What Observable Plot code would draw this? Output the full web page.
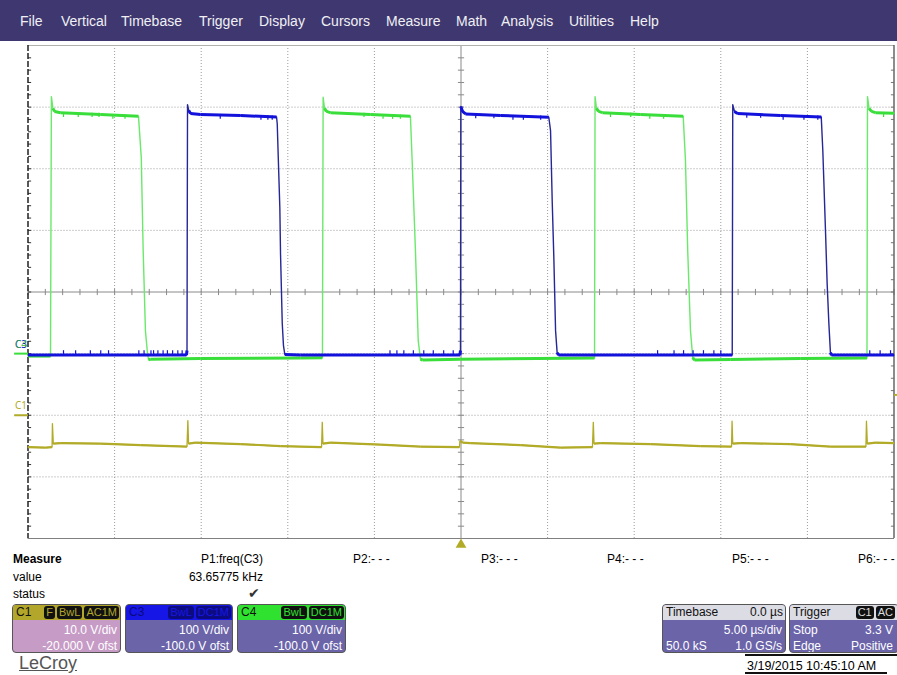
<!DOCTYPE html>
<html><head><meta charset="utf-8">
<script src="https://cdn.jsdelivr.net/npm/d3@7"></script>
<script src="https://cdn.jsdelivr.net/npm/@observablehq/plot@0.6"></script>
<style>
body{margin:0;background:#fff;font-family:"Liberation Sans",Arial,sans-serif;}
#root{position:relative;width:897px;height:675px;overflow:hidden;background:#fff;}
#menu{position:absolute;left:0;top:0;width:897px;height:41px;background:#3f3870;}
#menu span{position:absolute;top:13px;line-height:16px;color:#f0f0f4;font-size:14px;}
#chart{position:absolute;left:0;top:40px;}
.t{position:absolute;font-size:12px;line-height:14px;color:#000;white-space:nowrap;}
.box{position:absolute;box-sizing:border-box;border:1px solid #555;border-radius:4px;overflow:hidden;background:#6b64a9;color:#fff;font-size:12px;}
.hdr{position:absolute;left:0;right:0;top:0;height:15px;line-height:15px;font-size:12px;}
.hl{position:absolute;left:3px;top:0;}
.hr{position:absolute;right:2px;top:0;}
.tags{position:absolute;right:1px;top:1px;line-height:13px;}
.tags i{font-style:normal;display:inline-block;background:#111;border-radius:3px;padding:0 2px;margin-left:2px;font-size:11px;}
.r{position:absolute;right:3px;line-height:14px;white-space:nowrap;}
.l{position:absolute;left:3px;line-height:14px;white-space:nowrap;}
</style>
</head><body>
<div id="root">
  <div id="menu">
    <span style="left:20px">File</span>
    <span style="left:61px">Vertical</span>
    <span style="left:121px">Timebase</span>
    <span style="left:199px">Trigger</span>
    <span style="left:259px">Display</span>
    <span style="left:321px">Cursors</span>
    <span style="left:386px">Measure</span>
    <span style="left:456px">Math</span>
    <span style="left:501px">Analysis</span>
    <span style="left:569px">Utilities</span>
    <span style="left:630px">Help</span>
  </div>
  <div id="chart"></div>

  <div class="t" style="left:13px;top:552px;font-weight:bold">Measure</div>
  <div class="t" style="left:13px;top:570px">value</div>
  <div class="t" style="left:13px;top:587px">status</div>
  <div class="t" style="right:634px;top:552px">P1:freq(C3)</div>
  <div class="t" style="right:634px;top:570px">63.65775 kHz</div>
  <div class="t" style="left:248px;top:585px;font-size:14px;line-height:16px;color:#333;font-family:'DejaVu Sans',sans-serif">✔</div>
  <div class="t" style="left:353px;top:552px">P2:- - -</div>
  <div class="t" style="left:481px;top:552px">P3:- - -</div>
  <div class="t" style="left:607px;top:552px">P4:- - -</div>
  <div class="t" style="left:732px;top:552px">P5:- - -</div>
  <div class="t" style="left:858px;top:552px">P6:- - -</div>

  <div class="box" style="left:12px;top:604px;width:109px;height:49px;background:#c69bc6">
    <div class="hdr" style="background:#b2a72b;color:#111"><span class="hl">C1</span>
      <span class="tags" style="color:#b2a72b"><i>F</i><i>BwL</i><i>AC1M</i></span></div>
    <div class="r" style="top:18px">10.0 V/div</div>
    <div class="r" style="top:34px">-20.000 V ofst</div>
  </div>
  <div class="box" style="left:125px;top:604px;width:108px;height:49px">
    <div class="hdr" style="background:#1616e6;color:#0a0a7a"><span class="hl">C3</span>
      <span class="tags" style="color:#1616e6"><i style="background:#0c0c80">BwL</i><i style="background:#0c0c80">DC1M</i></span></div>
    <div class="r" style="top:18px">100 V/div</div>
    <div class="r" style="top:34px">-100.0 V ofst</div>
  </div>
  <div class="box" style="left:237px;top:604px;width:109px;height:49px">
    <div class="hdr" style="background:#2fe22f;color:#111"><span class="hl">C4</span>
      <span class="tags" style="color:#2fe22f"><i>BwL</i><i>DC1M</i></span></div>
    <div class="r" style="top:18px">100 V/div</div>
    <div class="r" style="top:34px">-100.0 V ofst</div>
  </div>

  <div class="t" style="left:19px;top:652px;font-size:18px;line-height:22px;color:#555;text-decoration:underline">LeCroy</div>

  <div class="box" style="left:662px;top:604px;width:124px;height:49px">
    <div class="hdr" style="background:#dcdce4;color:#111"><span class="hl">Timebase</span><span class="hr">0.0 µs</span></div>
    <div class="r" style="top:18px">5.00 µs/div</div>
    <div class="l" style="top:34px">50.0 kS</div>
    <div class="r" style="top:34px">1.0 GS/s</div>
  </div>
  <div class="box" style="left:789px;top:604px;width:110px;height:49px">
    <div class="hdr" style="background:#dcdce4;color:#111"><span class="hl">Trigger</span>
      <span class="tags" style="right:3px;color:#ddd"><i>C1</i><i>AC</i></span></div>
    <div class="l" style="top:18px">Stop</div>
    <div class="r" style="top:18px;right:5px">3.3 V</div>
    <div class="l" style="top:34px">Edge</div>
    <div class="r" style="top:34px;right:5px">Positive</div>
  </div>
  <div style="position:absolute;left:745px;top:654px;width:152px;height:0;border-top:2px solid #111"></div>
  <div class="t" style="left:747px;top:659px;font-size:12.5px">3/19/2015 10:45:10 AM</div>
  <div style="position:absolute;left:745px;top:672px;width:142px;height:0;border-top:2px solid #111"></div>
</div>

<script>
// ---- Channel settings (from the channel boxes) ----
const chNames = ["C1", "C3", "C4"];
const chVoltsPerDiv = [10, 100, 100];
const chOffsetVolts = [-20, -100, -100];
const triggerLevelC1 = 3.3;            // V
const timePerDiv = 5;                   // µs/div
const gridDivsX = 10, gridDivsY = 8;

// ---- C4 (green) trace: time in µs, voltage in V ----
const c4Time  = [-25.00,-23.70,-23.65,-23.56,-23.47,-23.12,-20.81,-18.62,-18.46,-18.35,-18.22,-18.10,-18.04,-17.93,-15.04,-9.27,-8.00,-7.96,-7.88,-7.77,-7.54,-5.23,-2.92,-2.82,-2.63,-2.47,-2.34,-2.22,-0.03,7.71,7.74,7.82,7.94,8.17,10.36,12.83,12.96,13.09,13.25,13.38,13.48,15.56,19.60,23.44,23.47,23.56,23.70,23.93,25.00];
const c4Volts = [-4,-4,417,398,393,391,388,385,318,167,37,0,-10,-9,-8,-7,-6.5,416,398,393,391,388,385,313,167,21,-9,-10.5,-9,-7,417,398,393,391,388,385,313,167,37,-6.5,-10.5,-9.5,-8,-7,417,398,393,391,390];

// ---- C3 (blue) trace ----
const c3Time  = [-25.00,-15.85,-15.82,-15.79,-15.72,-15.62,-15.04,-12.73,-10.65,-10.61,-10.55,-10.46,-10.42,-10.32,-10.25,-10.17,-9.27,-0.06,-0.03,-0.01,0.09,0.26,2.28,5.07,5.17,5.27,5.36,5.46,5.55,5.63,15.66,15.69,15.79,15.96,18.45,20.80,20.89,21.05,21.14,21.24,21.33,21.39,25.00];
const c3Volts = [-2.4,-2.4,5,404,394.5,389.6,388,386.4,384,373,318,237,162,49,13,-1.6,-2.4,-2.4,5,401,393,389,386.4,383.6,362,243.5,155.8,37.3,1.6,-2.4,-2.4,404,393,389.6,386.4,384,329.5,194.8,113.6,48.7,1.6,-2.4,-2.4];

// ---- C1 (yellow) trace ----
const c1Time  = [-25.00,-23.99,-23.61,-23.59,-23.54,-23.12,-20.81,-18.50,-15.82,-15.77,-15.73,-15.33,-12.73,-10.42,-8.05,-8.01,-7.97,-7.53,-4.65,-2.34,-0.09,-0.06,0.09,0.55,3.44,5.74,7.59,7.64,7.68,8.06,10.94,13.83,15.62,15.65,15.69,16.14,19.02,21.33,23.38,23.41,23.46,23.93,25.00];
const c1Volts = [-5.16,-5.24,-5.16,-1.36,-4.59,-4.51,-4.59,-4.84,-5.08,-0.86,-4.59,-4.43,-4.68,-5.00,-5.16,-1.14,-4.59,-4.43,-4.76,-5.08,-5.16,-4.19,-4.43,-4.51,-4.84,-5.24,-5.16,-1.14,-4.59,-4.51,-4.68,-5.00,-5.08,-0.97,-4.59,-4.51,-4.68,-5.08,-5.08,-0.97,-4.59,-4.43,-4.51];

// ---- noise glitches seen on the traces (times in µs) ----
const c4HighGlitchTime = [-22.95,-22.1,-21.3,-20.9,-20.1,-19.4,-5.6,-4.5,-3.95,-3.5,8.63,9.8,10.9,11.7,24.4];
const c3HighGlitchTime = [-13.9,-11.55,-11.15,-10.9,0.85,1.9,3.0,3.6,4.6,16.5,17.3,18.6,19.8,20.6];
const c3LowGlitchTime  = [-22.95,-22.25,-21.4,-20.8,-20.35,-18.6,-18.3,-17.9,-17.75,-17.5,-17.2,-16.95,-16.65,-16.35,-16.1,-4.1,-3.7,-3.3,-2.75,-2.15,-1.6,-1.0,-0.45,11.35,12.3,12.85,13.4,14.0,14.6,15.0,23.6,24.2,24.8];

// ---- helpers ----
const ch = name => { const i = chNames.indexOf(name); return {vdiv: chVoltsPerDiv[i], ofst: chOffsetVolts[i]}; };
const toDiv = (v, name) => { const c = ch(name); return (v + c.ofst) / c.vdiv; };
const trace = (ts, vs, name) => ts.map((t, i) => ({t, y: toDiv(vs[i], name)}));
const c4 = trace(c4Time, c4Volts, "C4");
const c3 = trace(c3Time, c3Volts, "C3");
const c1 = trace(c1Time, c1Volts, "C1");
const flats = (pts, thr) => pts.slice(1).map((p, i) => ({a: pts[i], b: p}))
  .filter(s => Math.abs(s.b.y - s.a.y) < thr);
const levelAt = (pts, t) => { const i = Math.max(1, d3.bisector(d => d.t).left(pts, t)); return pts[i - 1].y; };
const glitches = (pts, times, depth) => times.map(t => ({t, y1: levelAt(pts, t), y2: levelAt(pts, t) + depth}));

const halfX = gridDivsX / 2 * timePerDiv, halfY = gridDivsY / 2;
const gridT = d3.range(-halfX + timePerDiv, halfX, timePerDiv).filter(t => t !== 0);
const gridY = d3.range(-halfY + 1, halfY).filter(v => v !== 0);
const minorT = d3.range(-halfX, halfX + 0.001, timePerDiv / 5);
const minorY = d3.range(-halfY, halfY + 0.001, 0.2);

const GREEN = "#3ade3a", GREEN_EDGE = "#6ae86a", BLUE = "#1212dc", BLUE_EDGE = "#262696", YEL = "#b1ab27";
const gridCol = "#9c9c9c", axisCol = "#8a8a8a";

const plot = Plot.plot({
  width: 897, height: 510,
  marginTop: 5, marginBottom: 12, marginLeft: 27.5, marginRight: 3.5,
  x: {domain: [-halfX, halfX], axis: null},
  y: {domain: [-halfY, halfY], axis: null},
  style: {background: "transparent", overflow: "visible"},
  marks: [
    Plot.ruleX(gridT, {stroke: gridCol, strokeDasharray: "1,2", strokeWidth: 1}),
    Plot.ruleY(gridY, {stroke: gridCol, strokeDasharray: "1,2", strokeWidth: 1}),
    Plot.ruleX([0], {stroke: axisCol, strokeWidth: 1}),
    Plot.ruleY([0], {stroke: axisCol, strokeWidth: 1}),
    Plot.link(minorT, {x1: d => d, x2: d => d, y1: -0.05, y2: 0.05, stroke: axisCol}),
    Plot.link(minorY, {y1: d => d, y2: d => d, x1: -0.18, x2: 0.18, stroke: axisCol}),
    Plot.link(minorY, {y1: d => d, y2: d => d, x1: -halfX, x2: -halfX + 0.18, stroke: "#333"}),
    Plot.link(minorY, {y1: d => d, y2: d => d, x1: halfX - 0.18, x2: halfX, stroke: "#777"}),
    Plot.ruleY([halfY], {stroke: "#b0b0b0"}),
    Plot.ruleY([-halfY], {stroke: "#808080"}),
    Plot.ruleX([-halfX], {stroke: "#222", strokeWidth: 1.5, strokeDasharray: "6,2"}),
    Plot.ruleX([halfX], {stroke: "#666", strokeWidth: 1.5}),

    // C1 yellow
    Plot.line(c1, {x: "t", y: "y", stroke: YEL, strokeWidth: 1.3}),
    Plot.link(flats(c1, 0.08), {x1: d => d.a.t, y1: d => d.a.y, x2: d => d.b.t, y2: d => d.b.y, stroke: YEL, strokeWidth: 2.2}),

    // C4 green
    Plot.line(c4, {x: "t", y: "y", stroke: GREEN_EDGE, strokeWidth: 1.4}),
    Plot.link(flats(c4, 0.08), {x1: d => d.a.t, y1: d => d.a.y, x2: d => d.b.t, y2: d => d.b.y, stroke: GREEN, strokeWidth: 3}),
    Plot.link(glitches(c4, c4HighGlitchTime, -0.07), {x1: "t", x2: "t", y1: "y1", y2: "y2", stroke: GREEN, strokeWidth: 1.2}),

    // C3 blue
    Plot.line(c3, {x: "t", y: "y", stroke: BLUE_EDGE, strokeWidth: 1.4}),
    Plot.link(flats(c3, 0.08), {x1: d => d.a.t, y1: d => d.a.y, x2: d => d.b.t, y2: d => d.b.y, stroke: BLUE, strokeWidth: 3}),
    Plot.link(glitches(c3, c3HighGlitchTime, -0.07), {x1: "t", x2: "t", y1: "y1", y2: "y2", stroke: BLUE, strokeWidth: 1.2}),
    Plot.link(glitches(c3, c3LowGlitchTime, 0.08), {x1: "t", x2: "t", y1: "y1", y2: "y2", stroke: BLUE, strokeWidth: 1.2}),

    // ground markers in left margin
    Plot.link([toDiv(0, "C1")], {x1: -halfX - 0.8, x2: -halfX, y1: d => d, y2: d => d, stroke: YEL, strokeWidth: 2}),
    Plot.text(["C1"], {x: -halfX, y: toDiv(0, "C1"), dx: -7, dy: -9, text: d => d, fill: YEL, fontSize: 10}),
    Plot.link([toDiv(0, "C3")], {x1: -halfX - 0.8, x2: -halfX, y1: d => d, y2: d => d, stroke: GREEN, strokeWidth: 2}),
    Plot.text(["C3"], {x: -halfX, y: toDiv(0, "C3"), dx: -7, dy: -9, text: d => d, fill: BLUE, fontSize: 10}),
    Plot.text(["C4"], {x: -halfX, y: toDiv(0, "C4"), dx: -7, dy: -9, text: d => d, fill: "#3ab53a", fontSize: 10, fillOpacity: 0.85}),

    // trigger level (right edge) and trigger position (bottom)
    Plot.link([toDiv(triggerLevelC1, "C1")], {x1: halfX, x2: halfX + 0.22, y1: d => d, y2: d => d, stroke: YEL, strokeWidth: 2}),
    Plot.dot([0], {x: d => d, y: -halfY - 0.1, symbol: "triangle", r: 4, fill: YEL, stroke: "none"})
  ]
});
document.getElementById("chart").appendChild(plot);
</script>
</body></html>
